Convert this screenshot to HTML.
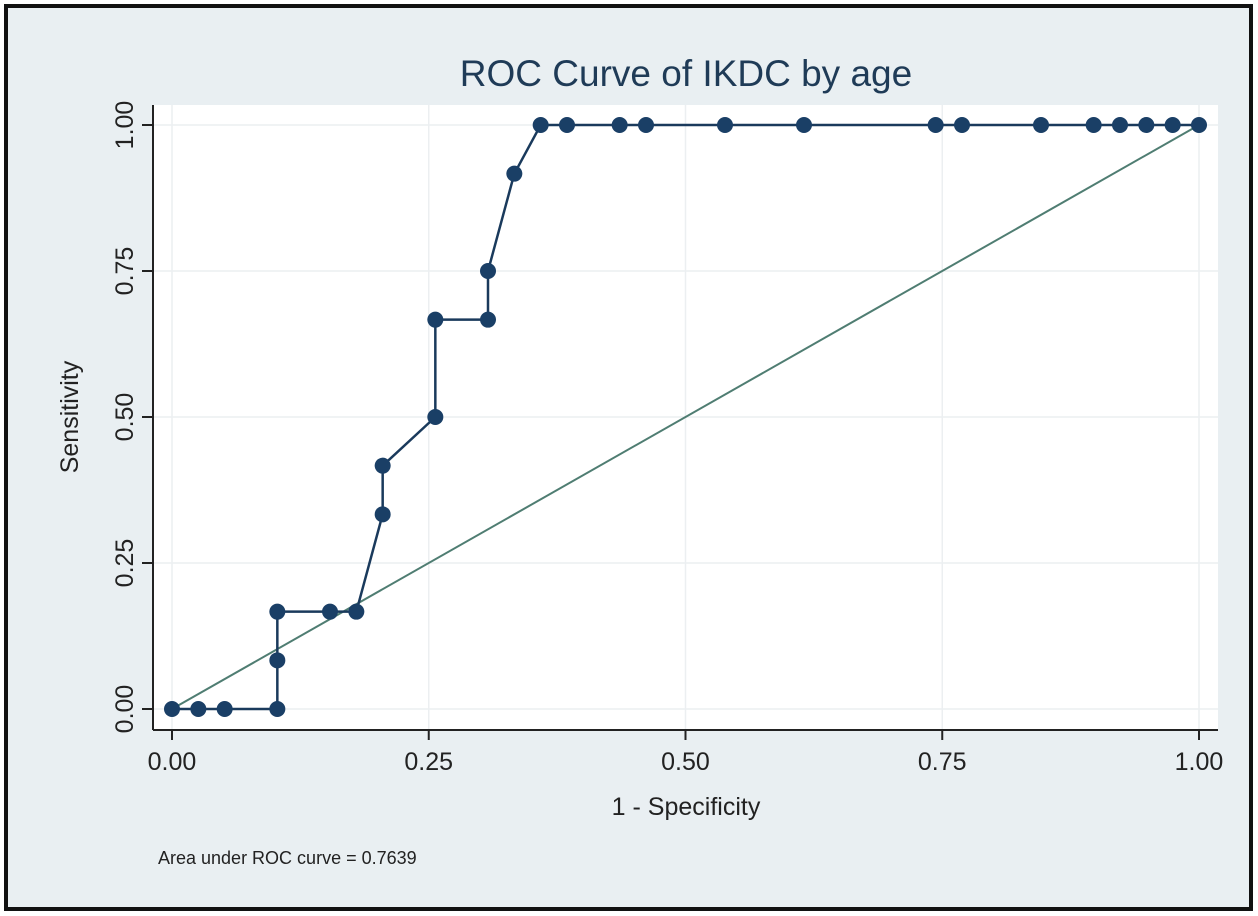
<!DOCTYPE html>
<html><head><meta charset="utf-8"><style>
body{margin:0;background:#fff;}
svg{display:block;font-family:"Liberation Sans",sans-serif;}
</style></head><body>
<svg id="chart" width="1258" height="916">
<rect x="0" y="0" width="1258" height="916" fill="#fff"/>
<rect x="6" y="6" width="1245" height="903" fill="#e9eff2" stroke="#111" stroke-width="4"/>
<rect x="153" y="105" width="1065" height="625" fill="#fff"/>
<text x="686" y="86" font-size="37" fill="#1f3b57" text-anchor="middle">ROC Curve of IKDC by age</text>
<g id="grid"></g>
<line x1="153" y1="105" x2="153" y2="730" stroke="#222" stroke-width="2"/>
<line x1="153" y1="730" x2="1218" y2="730" stroke="#222" stroke-width="2"/>
<g id="ticks"></g>
<text x="686" y="815" font-size="25" fill="#222" text-anchor="middle">1 - Specificity</text>
<text x="78" y="417" font-size="25" fill="#222" text-anchor="middle" transform="rotate(-90 78 417)">Sensitivity</text>
<text x="158" y="864" font-size="18" fill="#222">Area under ROC curve = 0.7639</text>
<g id="marks"></g>
</svg>
<script>
const fprCounts=[0,1,2,4,4,4,6,7,8,8,10,10,12,12,13,14,15,17,18,21,24,29,30,33,35,36,37,38,39];
const tprCounts=[0,0,0,0,1,2,2,2,4,5,6,8,8,9,11,12,12,12,12,12,12,12,12,12,12,12,12,12,12];
const fprTotal=39, tprTotal=12;
const tickValues=[0,0.25,0.5,0.75,1];
const tickLabels=["0.00","0.25","0.50","0.75","1.00"];
const NS="http://www.w3.org/2000/svg";
const sx=v=>172+v*1027, sy=v=>709-v*584;
function mk(tag,attrs,parent){const e=document.createElementNS(NS,tag);for(const k in attrs)e.setAttribute(k,attrs[k]);document.getElementById(parent).appendChild(e);return e;}
tickValues.forEach((t,i)=>{
 let g=mk('line',{x1:sx(t),x2:sx(t),y1:105,y2:730,stroke:'#eceff1','stroke-width':1.5},'grid');
 
 
 g=mk('line',{x1:153,x2:1218,y1:sy(t),y2:sy(t),stroke:'#eceff1','stroke-width':1.5},'grid');
 
 
 let l=mk('line',{x1:sx(t),x2:sx(t),y1:730,y2:740,stroke:'#222','stroke-width':2},'ticks');
 
 
 let tx=mk('text',{x:sx(t),y:770,'font-size':25,fill:'#222','text-anchor':'middle'},'ticks');tx.textContent=tickLabels[i];
 
 
 l=mk('line',{x1:142,x2:153,y1:sy(t),y2:sy(t),stroke:'#222','stroke-width':2},'ticks');
 
 
 let ty=mk('text',{x:0,y:0,'font-size':25,fill:'#222','text-anchor':'middle',transform:`translate(133 ${sy(t)}) rotate(-90)`},'ticks');ty.textContent=tickLabels[i];
 
 
});
let ref=mk('line',{x1:sx(0),y1:sy(0),x2:sx(1),y2:sy(1),stroke:'#4f7d72','stroke-width':2},'marks');


const pts=fprCounts.map((f,i)=>[sx(f/fprTotal),sy(tprCounts[i]/tprTotal)]);
let pl=mk('polyline',{points:pts.map(p=>p.join(',')).join(' '),fill:'none',stroke:'#1a3a5c','stroke-width':2.5},'marks');


pts.forEach(p=>{let c=mk('circle',{cx:p[0],cy:p[1],r:8,fill:'#1a3f66'},'marks');
 
 });
</script>
</body></html>
